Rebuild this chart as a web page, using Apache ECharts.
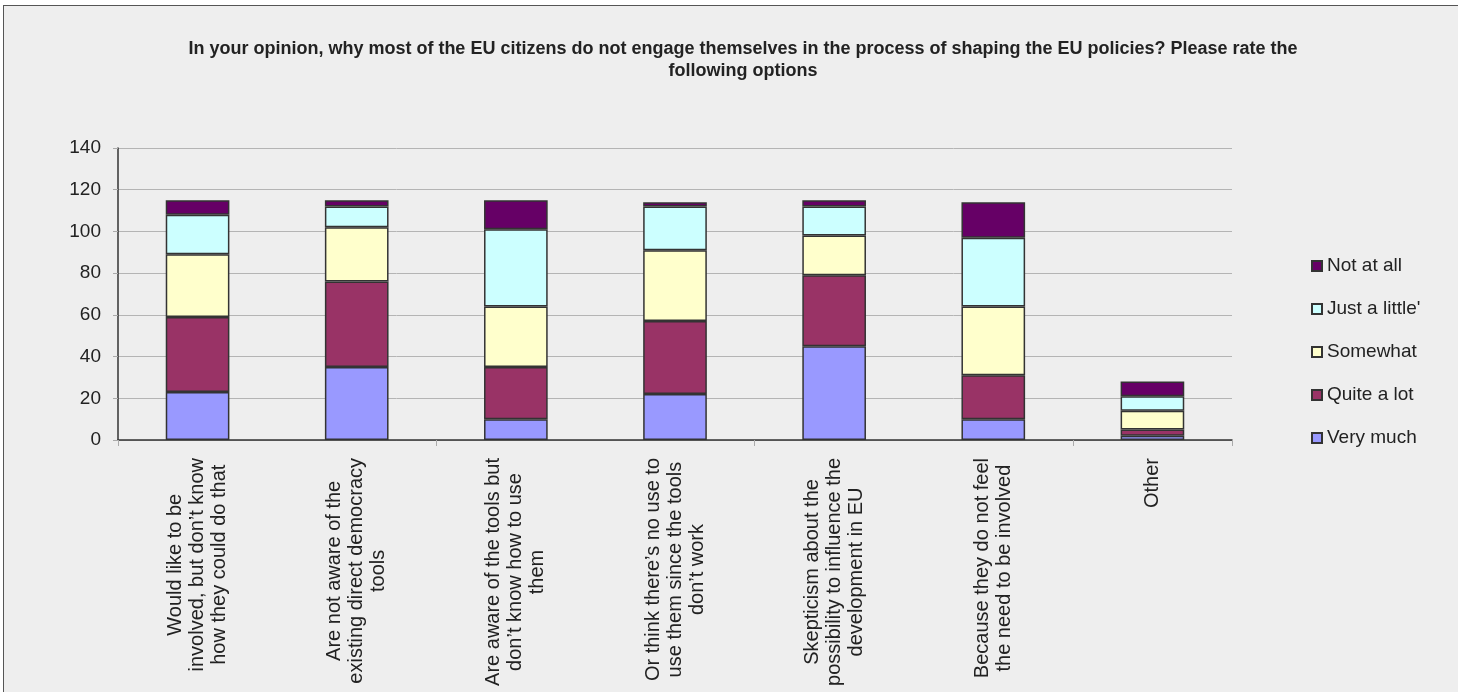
<!DOCTYPE html>
<html>
<head>
<meta charset="utf-8">
<script src="https://cdn.jsdelivr.net/npm/echarts@6/dist/echarts.min.js"></script>
<style>
html,body{margin:0;padding:0;background:#fff;overflow:hidden;}
#frame{position:absolute;left:3px;top:5px;width:1500px;height:750px;border:1px solid #555;background:#eeeeee;}
#chart{position:absolute;left:0;top:0;width:1458px;height:692px;}
</style>
</head>
<body>
<div id="frame"></div>
<div id="chart"></div>
<script>
const titleText = 'In your opinion, why most of the EU citizens do not engage themselves in the process of shaping the EU policies? Please rate the\nfollowing options';
const categories = [
  'Would like to be\ninvolved, but don’t know\nhow they could do that',
  'Are not aware of the\nexisting direct democracy\ntools',
  'Are aware of the tools but\ndon’t know how to use\nthem',
  'Or think there’s no use to\nuse them since the tools\ndon’t work',
  'Skepticism about the\npossibility to influence the\ndevelopment in EU',
  'Because they do not feel\nthe need to be involved',
  'Other'
];
const veryMuch   = [23, 35, 10, 22, 45, 10, 2];
const quiteALot  = [36, 41, 25, 35, 34, 21, 3];
const somewhat   = [30, 26, 29, 34, 19, 33, 9];
const justLittle = [19, 10, 37, 21, 14, 33, 7];
const notAtAll   = [7, 3, 14, 2, 3, 17, 7];
const yTicks = [0, 20, 40, 60, 80, 100, 120, 140];

const seriesDefs = [
  {name: 'Very much', data: veryMuch, color: '#9999FF'},
  {name: 'Quite a lot', data: quiteALot, color: '#993366'},
  {name: 'Somewhat', data: somewhat, color: '#FFFFCC'},
  {name: 'Just a little\'', data: justLittle, color: '#CCFFFF'},
  {name: 'Not at all', data: notAtAll, color: '#660066'}
];

const FONT = '"Liberation Sans", Arial, sans-serif';
const LABEL_SIZE = 20, LABEL_LH = 22, LABEL_MARGIN = 18;
const chart = echarts.init(document.getElementById('chart'), null, {renderer: 'canvas'});
chart.setOption({
  backgroundColor: 'transparent',
  animation: false,
  title: {
    text: titleText,
    left: 738, top: 33, textAlign: 'center',
    textStyle: {fontFamily: FONT, fontSize: 18, fontWeight: 'bold', color: '#222', lineHeight: 22}
  },
  legend: {
    orient: 'vertical',
    left: 1306, top: 251,
    itemWidth: 10, itemHeight: 10, itemGap: 23,
    icon: 'rect',
    data: seriesDefs.map(s => s.name).reverse(),
    textStyle: {fontFamily: FONT, fontSize: 19, color: '#222', lineHeight: 20}
  },
  grid: {left: 118, right: 226, top: 148, bottom: 252, containLabel: false},
  xAxis: {
    type: 'category',
    data: categories,
    axisLine: {lineStyle: {color: '#333', width: 1.5}},
    axisTick: {show: true, length: 6, lineStyle: {color: '#aaa'}},
    axisLabel: {show: false}
  },
  yAxis: {
    type: 'value', min: 0, max: 140, interval: 20,
    axisLine: {show: true, lineStyle: {color: '#333', width: 1.5}},
    axisTick: {show: true, length: 5, lineStyle: {color: '#aaa'}},
    axisLabel: {fontFamily: FONT, fontSize: 19, color: '#222', margin: 17,
      formatter: v => yTicks.includes(v) ? String(v) : ''},
    splitLine: {lineStyle: {color: '#b4b4b4', width: 1}}
  },
  series: seriesDefs.map(s => ({
    name: s.name, type: 'bar', stack: 'total', data: s.data,
    barWidth: '40%',
    itemStyle: {color: s.color, borderColor: '#333', borderWidth: 1.5}
  }))
});

// Category labels: rotated 90°, lines centred on each other, block ending just below the axis
const ctx = document.createElement('canvas').getContext('2d');
const labelFont = LABEL_SIZE + 'px ' + FONT;
ctx.font = labelFont;
const labelEls = categories.map((c, i) => {
  const p = chart.convertToPixel({gridIndex: 0}, [i, 0]);
  const w = Math.max(...c.split('\n').map(l => ctx.measureText(l).width));
  return {
    type: 'text',
    x: p[0], y: p[1] + LABEL_MARGIN + w / 2,
    rotation: Math.PI / 2,
    silent: true,
    style: {text: c, font: labelFont, fill: '#222', align: 'center', verticalAlign: 'middle', lineHeight: LABEL_LH}
  };
});
chart.setOption({graphic: labelEls});
</script>
</body>
</html>
